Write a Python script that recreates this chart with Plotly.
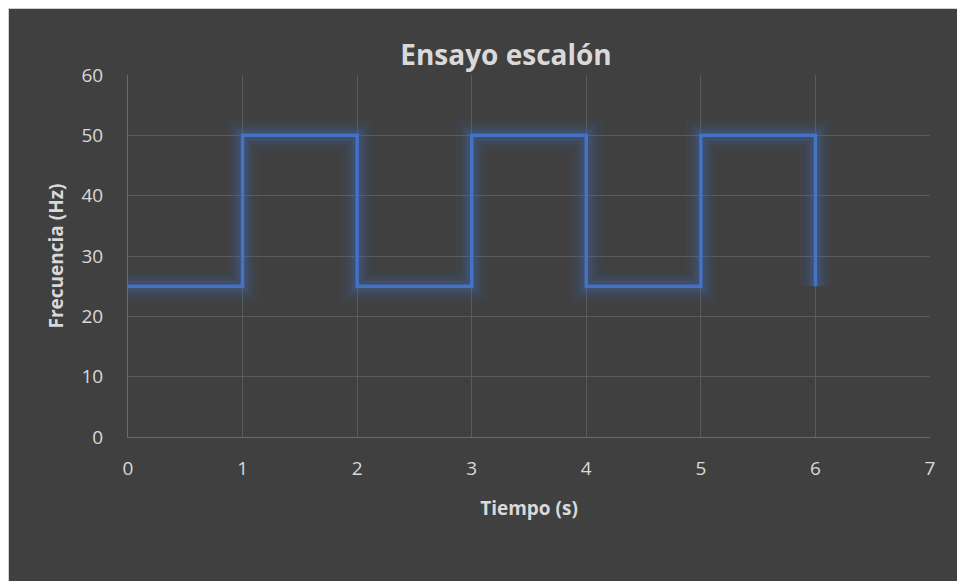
import plotly.graph_objects as go

# Step test data: time (s) and frequency (Hz)
tiempo = [0, 1, 2, 3, 4, 5, 6]
frecuencia = [25, 50, 25, 50, 25, 50, 25]

x_ticks = [0, 1, 2, 3, 4, 5, 6, 7]
y_ticks = [0, 10, 20, 30, 40, 50, 60]

W, H = 957, 581
L, R, T, B = 128, 27, 75, 144
pw, ph = W - L - R, H - T - B

def px_to_paper_x(px):
    return (px - L) / pw

def px_to_paper_y(py):
    return (H - B - py) / ph

BLUE = "#4472C4"
TEXT = "#d9d9d9"
FONT = "'Open Sans', sans-serif"

fig = go.Figure()

# soft glow under the main line
for w, a in [(32, 0.05), (24, 0.07), (17, 0.10), (11, 0.16)]:
    fig.add_trace(go.Scatter(
        x=tiempo, y=frecuencia, mode="lines", line_shape="hv",
        line=dict(color=f"rgba(68,114,196,{a})", width=w),
        hoverinfo="skip", showlegend=False,
    ))

fig.add_trace(go.Scatter(
    x=tiempo, y=frecuencia, mode="lines", line_shape="hv",
    line=dict(color=BLUE, width=3.5),
    name="Frecuencia", showlegend=False,
))

# dark chart-area panel with thin light border
fig.add_shape(
    type="rect", xref="paper", yref="paper", layer="below",
    x0=px_to_paper_x(8.5), x1=px_to_paper_x(W + 2),
    y0=px_to_paper_y(H + 2), y1=px_to_paper_y(8.5),
    fillcolor="#404040", line=dict(color="#d0d0d0", width=1),
)

fig.update_layout(
    width=W, height=H,
    margin=dict(l=L, r=R, t=T, b=B),
    paper_bgcolor="white",
    plot_bgcolor="rgba(0,0,0,0)",
    font=dict(family=FONT, color=TEXT, size=19),
    title=dict(
        text="<b>Ensayo escalón</b>",
        x=506 / W, xref="container", xanchor="center",
        y=1 - 55 / H, yanchor="middle",
        font=dict(size=28, color=TEXT, family=FONT),
    ),
    xaxis=dict(
        range=[0, 7], tickvals=x_ticks, ticktext=[str(v) for v in x_ticks],
        showgrid=True, gridcolor="#5a5a5a", gridwidth=1,
        showline=True, linecolor="#6b6b6b", linewidth=1,
        zeroline=False, ticks="", ticklabelstandoff=14,
        tickfont=dict(size=19, color=TEXT),
        title=dict(text="<b>Tiempo (s)</b>", font=dict(size=19, color=TEXT), standoff=21),
    ),
    yaxis=dict(
        range=[0, 60], tickvals=y_ticks, ticktext=[str(v) for v in y_ticks],
        showgrid=True, gridcolor="#5a5a5a", gridwidth=1,
        showline=True, linecolor="#6b6b6b", linewidth=1,
        zeroline=False, ticks="", ticklabelstandoff=20,
        tickfont=dict(size=19, color=TEXT),
        title=dict(text="<b>Frecuencia (Hz)</b>", font=dict(size=19, color=TEXT), standoff=12),
    ),
)

fig.write_html("out.html")
